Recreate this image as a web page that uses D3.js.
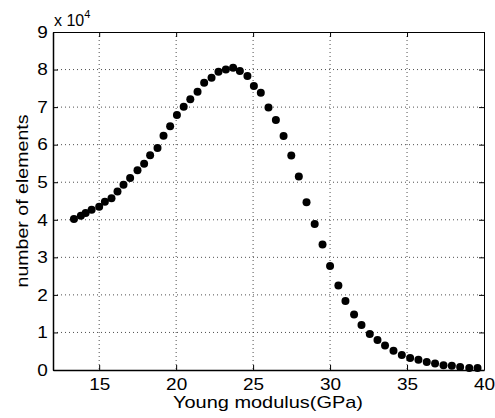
<!doctype html>
<html lang="en">
<head>
<meta charset="utf-8">
<title>Young modulus histogram</title>
<style>
    body { margin: 0; background: white; }
    svg { display: block; font-family: "Liberation Sans", Arial, sans-serif; }
    .grid line { stroke: #222; stroke-dasharray: 1,3; stroke-width: 0.8; }
    .axis text { font-size: 16.5px; fill: #000; }
    .axis path, .axis line { stroke: #000; }
</style>
<script src="https://d3js.org/d3.v7.min.js"></script>
</head>
<body>
<svg id="chart" width="495" height="418"></svg>
<script>
// values; y is in units of 1e4 elements
var modulus = [13.36, 13.81, 14.12, 14.51, 15.0, 15.37, 15.8, 16.19, 16.58, 17.01,
    17.49, 17.92, 18.31, 18.79, 19.18, 19.61, 20.05, 20.49, 20.92, 21.39,
    21.82, 22.30, 22.75, 23.23, 23.70, 24.14, 24.63, 25.05, 25.5, 26.0,
    26.48, 26.98, 27.48, 27.97, 28.47, 29.0, 29.51, 30.0, 30.54, 31.0,
    31.56, 32.04, 32.58, 33.08, 33.57, 34.12, 34.66, 35.2, 35.74, 36.28,
    36.82, 37.37, 37.91, 38.45, 39.04, 39.58];
var counts = [4.02, 4.11, 4.18, 4.27, 4.35, 4.48, 4.57, 4.75, 4.93, 5.11,
    5.32, 5.49, 5.72, 5.91, 6.24, 6.49, 6.79, 7.01, 7.21, 7.41,
    7.65, 7.78, 7.94, 8.00, 8.05, 7.96, 7.83, 7.56, 7.38, 6.99,
    6.66, 6.23, 5.71, 5.15, 4.47, 3.89, 3.34, 2.77, 2.25, 1.84,
    1.48, 1.20, 0.96, 0.80, 0.65, 0.51, 0.40, 0.32, 0.27, 0.21,
    0.17, 0.125, 0.11, 0.08, 0.05, 0.05];
var xTicks = [15, 20, 25, 30, 35, 40];
var yTicks = [0, 1, 2, 3, 4, 5, 6, 7, 8, 9];
var xLabel = "Young modulus(GPa)";
var yLabel = "number of elements";

var svg = d3.select("#chart");
var margin = { top: 32, right: 11, bottom: 48, left: 53 };
var width = 495 - margin.left - margin.right;
var height = 418 - margin.top - margin.bottom;
var stretch = "scale(1.15,1)";

var g = svg.append("g")
    .attr("transform", "translate(" + margin.left + "," + margin.top + ")");

var x = d3.scaleLinear().domain([12, 40]).range([0, width]);
var y = d3.scaleLinear().domain([0, 9]).range([height, 0]);

// dotted grid
g.append("g").attr("class", "grid")
    .selectAll("line").data(xTicks.slice(0, -1)).join("line")
    .attr("x1", function (d) { return x(d) }).attr("x2", function (d) { return x(d) })
    .attr("y1", 0).attr("y2", height);
g.append("g").attr("class", "grid")
    .selectAll("line").data(yTicks.slice(1, -1)).join("line")
    .attr("y1", function (d) { return y(d) }).attr("y2", function (d) { return y(d) })
    .attr("x1", 0).attr("x2", width);

// axes with inward ticks on all four sides
g.append("g").attr("class", "axis")
    .attr("transform", "translate(0," + height + ")")
    .call(d3.axisBottom(x).tickValues(xTicks).tickSizeInner(-5).tickSizeOuter(0).tickPadding(8))
    .call(function (s) {
        s.select(".domain").attr("stroke-width", 1.5);
        s.selectAll("text").attr("transform", stretch);
    });
g.append("g").attr("class", "axis")
    .call(d3.axisTop(x).tickValues(xTicks).tickSizeInner(-5).tickSizeOuter(0).tickFormat(""));
g.append("g").attr("class", "axis")
    .call(d3.axisLeft(y).tickValues(yTicks).tickSizeInner(-5).tickSizeOuter(0).tickPadding(4.5))
    .call(function (s) {
        s.select(".domain").attr("stroke-width", 1.5);
        s.selectAll("text").attr("transform", stretch);
    });
g.append("g").attr("class", "axis")
    .attr("transform", "translate(" + width + ",0)")
    .call(d3.axisRight(y).tickValues(yTicks).tickSizeInner(-5).tickSizeOuter(0).tickFormat(""));

// points
g.append("g")
    .selectAll("circle").data(modulus).join("circle")
    .attr("cx", function (d) { return x(d) })
    .attr("cy", function (d, i) { return y(counts[i]) })
    .attr("r", 4)
    .attr("fill", "#000");

// exponent label
var expo = svg.append("text")
    .attr("x", margin.left + 1).attr("y", 26)
    .attr("font-size", 16);
expo.append("tspan").text("x 10");
expo.append("tspan").attr("font-size", 11).attr("dy", -8).text("4");

svg.append("text")
    .attr("x", 268).attr("y", 408)
    .attr("text-anchor", "middle").attr("font-size", 17)
    .attr("textLength", 190).attr("lengthAdjust", "spacingAndGlyphs")
    .text(xLabel);

svg.append("text")
    .attr("transform", "translate(28," + (margin.top + height / 2) + ") rotate(-90)")
    .attr("text-anchor", "middle").attr("font-size", 16)
    .attr("textLength", 173).attr("lengthAdjust", "spacingAndGlyphs")
    .text(yLabel);
</script>
</body>
</html>
